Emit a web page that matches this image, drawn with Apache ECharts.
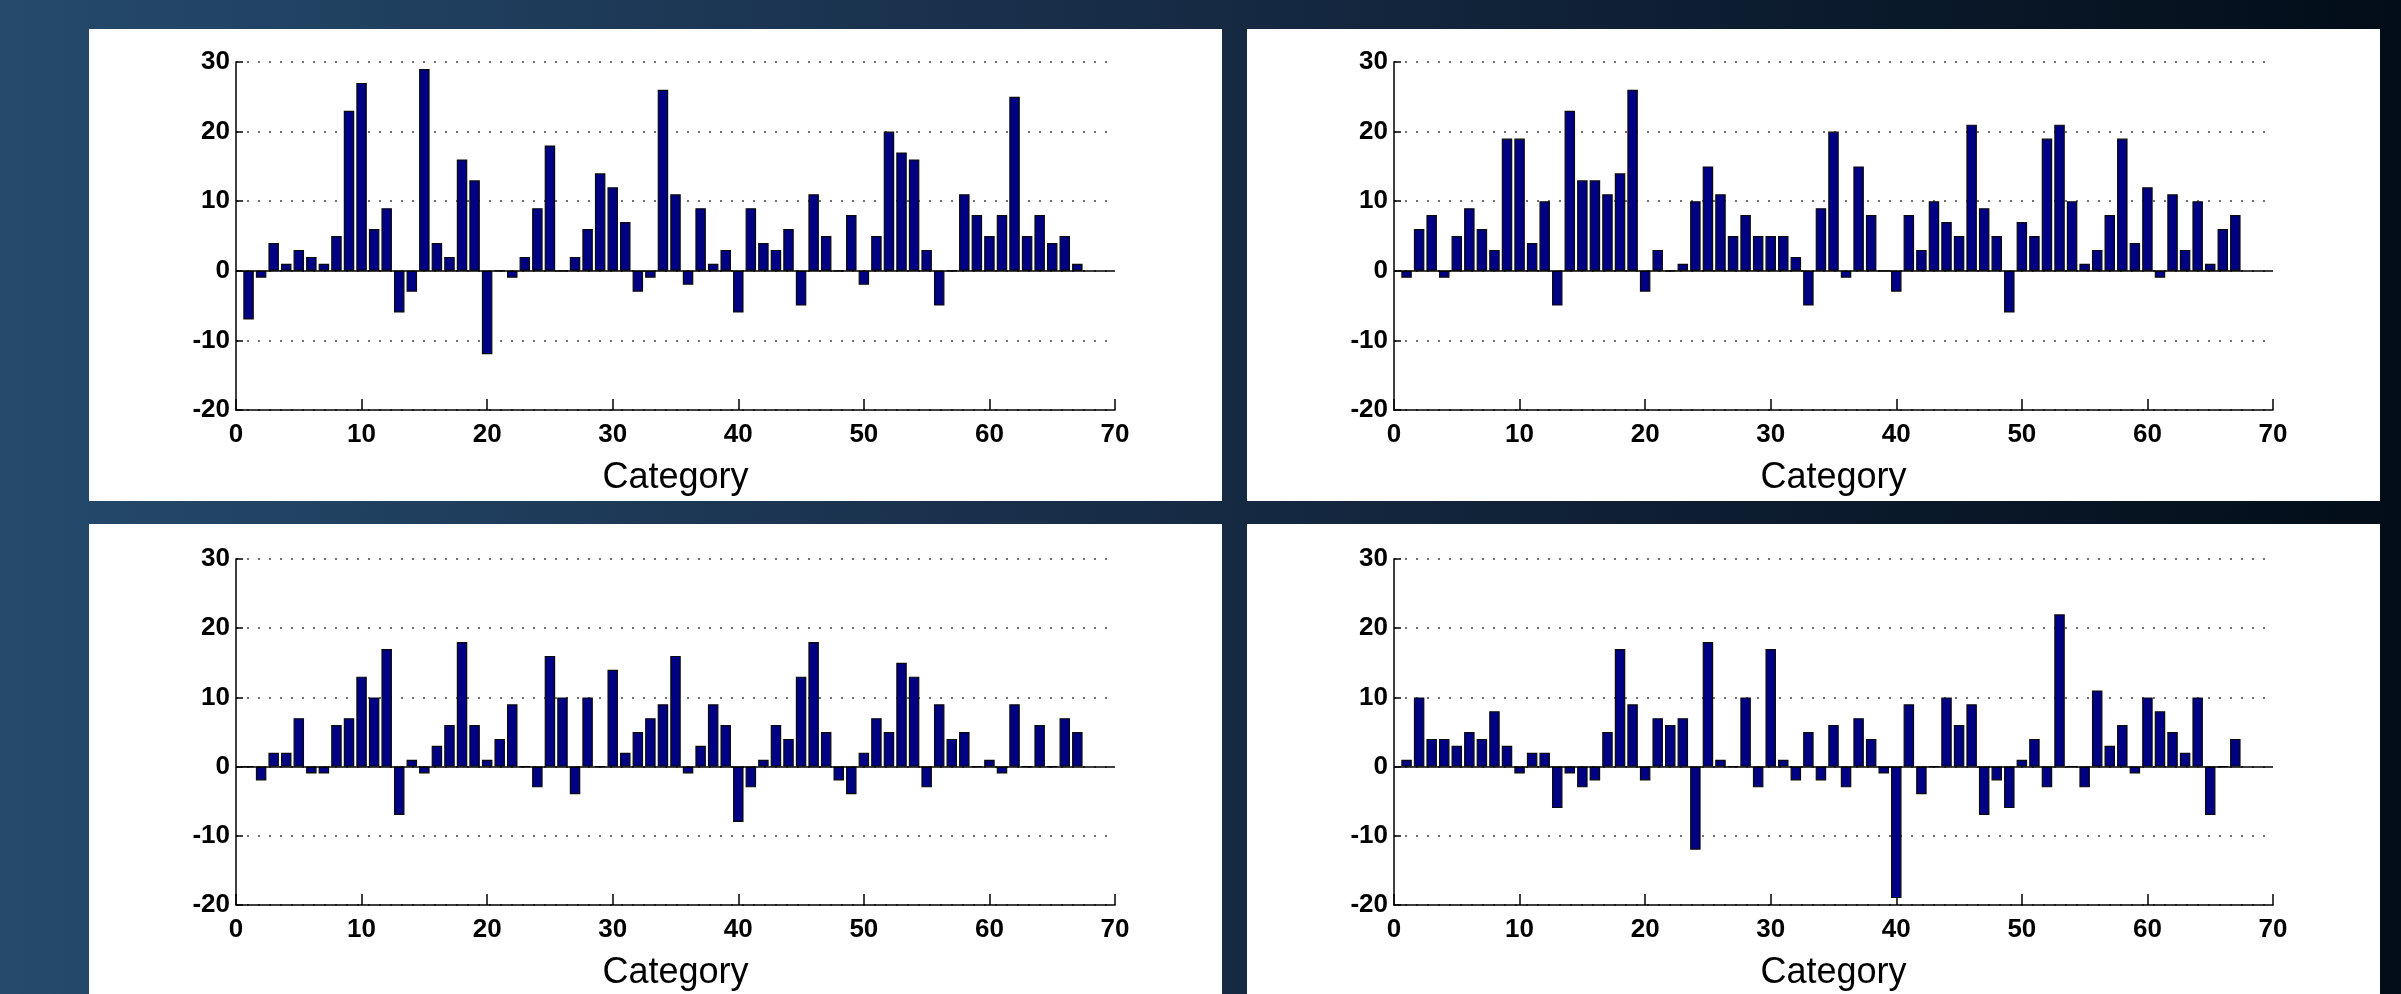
<!DOCTYPE html>
<html>
<head>
<meta charset="utf-8">
<script src="https://cdn.jsdelivr.net/npm/echarts@6/dist/echarts.min.js"></script>
<style>
  html, body { margin: 0; padding: 0; width: 2401px; height: 994px; overflow: hidden; }
  body { background: linear-gradient(to right, #254a6c 0%, #162a44 50%, #020d18 100%); position: relative; }
  .panel { position: absolute; width: 1133px; height: 472px; background: #ffffff; }
</style>
</head>
<body>
<div class="panel" id="p1" style="left:89px;top:29px"></div>
<div class="panel" id="p2" style="left:1247px;top:29px"></div>
<div class="panel" id="p3" style="left:89px;top:524px"></div>
<div class="panel" id="p4" style="left:1247px;top:524px"></div>
<script>
// bar positions along x (1..67)
const positions = Array.from({ length: 67 }, (_, i) => i + 1);

const valuesTopLeft = [-7, -1, 4, 1, 3, 2, 1, 5, 23, 27, 6, 9, -6, -3, 29, 4, 2, 16, 13, -12,
  0, -1, 2, 9, 18, 0, 2, 6, 14, 12, 7, -3, -1, 26, 11, -2, 9, 1, 3, -6,
  9, 4, 3, 6, -5, 11, 5, 0, 8, -2, 5, 20, 17, 16, 3, -5, 0, 11, 8, 5,
  8, 25, 5, 8, 4, 5, 1];

const valuesTopRight = [-1, 6, 8, -1, 5, 9, 6, 3, 19, 19, 4, 10, -5, 23, 13, 13, 11, 14, 26, -3,
  3, 0, 1, 10, 15, 11, 5, 8, 5, 5, 5, 2, -5, 9, 20, -1, 15, 8, 0, -3,
  8, 3, 10, 7, 5, 21, 9, 5, -6, 7, 5, 19, 21, 10, 1, 3, 8, 19, 4, 12,
  -1, 11, 3, 10, 1, 6, 8];

const valuesBottomLeft = [0, -2, 2, 2, 7, -1, -1, 6, 7, 13, 10, 17, -7, 1, -1, 3, 6, 18, 6, 1,
  4, 9, 0, -3, 16, 10, -4, 10, 0, 14, 2, 5, 7, 9, 16, -1, 3, 9, 6, -8,
  -3, 1, 6, 4, 13, 18, 5, -2, -4, 2, 7, 5, 15, 13, -3, 9, 4, 5, 0, 1,
  -1, 9, 0, 6, 0, 7, 5];

const valuesBottomRight = [1, 10, 4, 4, 3, 5, 4, 8, 3, -1, 2, 2, -6, -1, -3, -2, 5, 17, 9, -2,
  7, 6, 7, -12, 18, 1, 0, 10, -3, 17, 1, -2, 5, -2, 6, -3, 7, 4, -1, -19,
  9, -4, 0, 10, 6, 9, -7, -2, -6, 1, 4, -3, 22, 0, -3, 11, 3, 6, -1, 10,
  8, 5, 2, 10, -7, 0, 4];

const xName = 'Category';
const font = "'Liberation Sans', Arial, Helvetica, sans-serif";

function makeChart(id, values, gridTop) {
  const chart = echarts.init(document.getElementById(id));
  const option = {
    animation: false,
    grid: { left: 147, right: 107, top: gridTop, bottom: 90 },
    xAxis: {
      type: 'value',
      min: 0,
      max: 70,
      interval: 10,
      name: xName,
      nameLocation: 'middle',
      nameGap: 50,
      nameTextStyle: { color: '#000', fontSize: 36, fontFamily: font },
      axisLine: { onZero: false, lineStyle: { color: '#000', width: 1.5 } },
      axisTick: { inside: true, length: 11, lineStyle: { color: '#000', width: 1.5 } },
      axisLabel: { color: '#000', fontSize: 26, fontWeight: 'bold', fontFamily: font, margin: 12 },
      splitLine: { show: false }
    },
    yAxis: {
      type: 'value',
      min: -20,
      max: 30,
      interval: 10,
      axisLine: { show: true, onZero: false, lineStyle: { color: '#000', width: 1.5 } },
      axisTick: { show: true, inside: true, length: 7, lineStyle: { color: '#000', width: 1.5 } },
      axisLabel: { color: '#000', fontSize: 26, fontWeight: 'bold', fontFamily: font, margin: 6 },
      splitLine: { show: true, lineStyle: { color: '#444', width: 1.5, type: [2, 9] } }
    },
    series: [
      {
        type: 'bar',
        barWidth: 10.5,
        data: positions.map((x, i) => [x, values[i]]),
        itemStyle: { color: '#000084', borderColor: '#0a0a0a', borderWidth: 1.2 },
        markLine: {
          silent: true,
          symbol: 'none',
          label: { show: false },
          lineStyle: { color: '#000', width: 1.5, type: 'solid' },
          data: [{ yAxis: 0 }]
        }
      }
    ]
  };
  chart.setOption(option);
}

makeChart('p1', valuesTopLeft, 33);
makeChart('p2', valuesTopRight, 33);
makeChart('p3', valuesBottomLeft, 35);
makeChart('p4', valuesBottomRight, 35);
</script>
</body>
</html>
